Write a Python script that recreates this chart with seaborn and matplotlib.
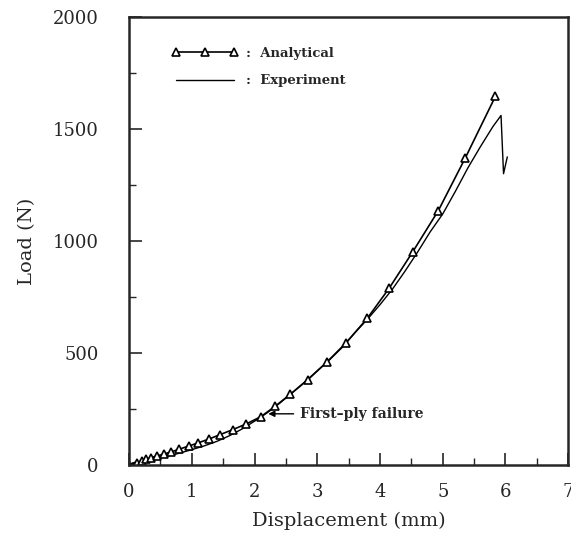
import numpy as np
import pandas as pd
import matplotlib
matplotlib.use("Agg")
import matplotlib.pyplot as plt
from matplotlib.ticker import MultipleLocator
from matplotlib.lines import Line2D
import seaborn as sns

# analytical prediction (triangles)
analytical_disp = [0.0, 0.12, 0.2, 0.27, 0.35, 0.45, 0.55, 0.67, 0.8, 0.95, 1.1, 1.27,
                   1.45, 1.65, 1.87, 2.1, 2.33, 2.57, 2.85, 3.15, 3.46, 3.8, 4.15,
                   4.52, 4.93, 5.36, 5.84]
analytical_load = [0, 10, 18, 25, 32, 40, 48, 58, 70, 84, 98, 115,
                   135, 157, 183, 215, 262, 315, 380, 458, 545, 655, 790,
                   950, 1135, 1370, 1645]

# experiment curve
experiment_disp = [0.0, 0.05, 0.1, 0.2, 0.4, 0.6, 0.8, 1.0, 1.2, 1.4, 1.6, 1.8, 2.0,
                   2.2, 2.4, 2.6, 2.8, 3.0, 3.2, 3.4, 3.6, 3.8, 4.0, 4.2, 4.4, 4.6,
                   4.8, 5.0, 5.2, 5.4, 5.6, 5.8, 5.93, 5.97, 6.03]
experiment_load = [0, 8, 12, 15, 25, 38, 52, 68, 85, 105, 130, 160, 195,
                   232, 275, 322, 370, 420, 470, 525, 590, 650, 715, 785, 865, 950,
                   1040, 1120, 1220, 1325, 1420, 1510, 1560, 1300, 1375]

sns.set_style("ticks")
plt.rcParams["font.family"] = ["DejaVu Serif"]

ana = pd.DataFrame({"disp": analytical_disp, "load": analytical_load})
exp = pd.DataFrame({"disp": experiment_disp, "load": experiment_load})

fig = plt.figure(figsize=(5.71, 5.45), dpi=100)
ax = fig.add_axes([0.226, 0.147, 0.769, 0.822])

sns.lineplot(data=exp, x="disp", y="load", ax=ax, color="black", linewidth=1.0,
             sort=False, estimator=None)
sns.lineplot(data=ana, x="disp", y="load", ax=ax, color="black", linewidth=1.2,
             marker="^", markersize=6, markerfacecolor="white",
             markeredgecolor="black", markeredgewidth=1.2, sort=False, estimator=None)

ax.set_xlim(0, 7)
ax.set_ylim(0, 2000)
ax.xaxis.set_major_locator(MultipleLocator(1))
ax.xaxis.set_minor_locator(MultipleLocator(0.5))
ax.yaxis.set_major_locator(MultipleLocator(500))
ax.yaxis.set_minor_locator(MultipleLocator(250))
ax.tick_params(which="major", direction="in", length=9, width=1.2, labelsize=13, pad=13)
ax.tick_params(which="minor", direction="in", length=5, width=1.0)
ax.tick_params(axis="y", pad=22)
for s in ax.spines.values():
    s.set_linewidth(1.8)
    s.set_visible(True)

ax.set_xlabel("Displacement (mm)", fontsize=14, labelpad=8)
ax.set_ylabel("Load (N)", fontsize=14, labelpad=12)

# legend drawn as handles with ": " labels
handles = [
    Line2D([], [], color="black", linewidth=1.2, marker="^", markersize=6,
           markerfacecolor="white", markeredgecolor="black", markeredgewidth=1.2),
    Line2D([], [], color="black", linewidth=1.0),
]
leg = ax.legend(handles, [":  Analytical", ":  Experiment"], loc="upper left",
                bbox_to_anchor=(0.07, 0.96), frameon=False, numpoints=3,
                handlelength=5.0, labelspacing=1.1, handletextpad=0.6,
                prop={"weight": "bold", "size": 9.5})

ax.annotate("First\u2013ply failure", xy=(2.22, 228), xytext=(2.72, 228),
            fontsize=10, fontweight="bold", va="center", ha="left",
            arrowprops=dict(arrowstyle="-|>", color="black", lw=1.0,
                            shrinkA=2, shrinkB=0, mutation_scale=9))

fig.savefig("out.png", dpi=100)
